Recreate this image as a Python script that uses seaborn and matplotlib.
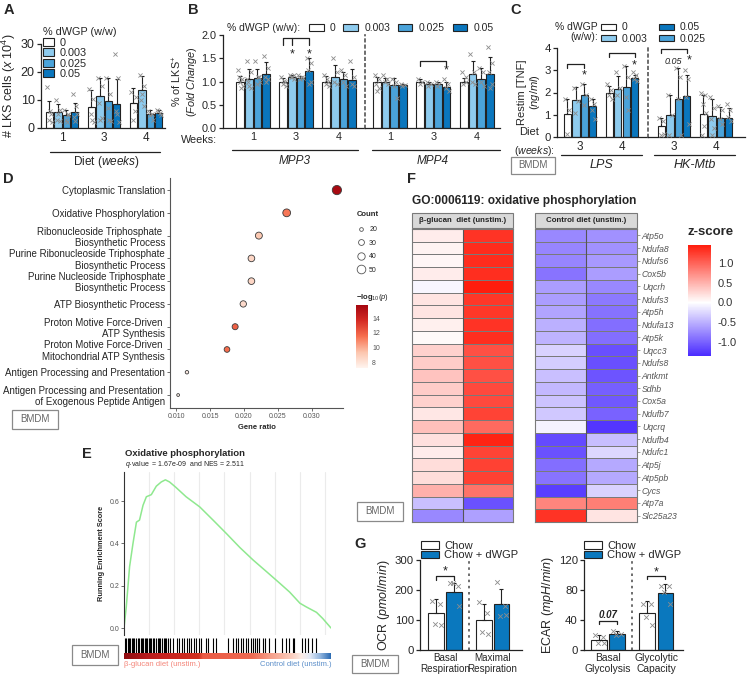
import numpy as np
import pandas as pd
import matplotlib
matplotlib.use('Agg')
import matplotlib.pyplot as plt
import seaborn as sns
from matplotlib.patches import Patch, Rectangle
from matplotlib.lines import Line2D
from matplotlib.colors import LinearSegmentedColormap, Normalize

W, H = 747, 676

# ---------------- data ----------------
# dWGP dose groups (panels A, B, C)
doses = ['0', '0.003', '0.025', '0.05']
dose_colors = ['#ffffff', '#8ecbee', '#4aa3da', '#0a76bd']

# A: LKS cells (x 10^4)
a_weeks = ['1', '3', '4']
a_mean = [[5.8, 5.8, 4.8, 5.8], [7.5, 11.5, 9.8, 8.5], [8.9, 13.6, 5.0, 5.4]]
a_sd = [[3.7, 2.7, 1.7, 3.2], [6.0, 6.5, 8.2, 9.0], [5.4, 5.0, 1.5, 1.1]]
a_pts = [
    [[14.5, 5, 3, 2, 6], [10, 6.5, 3, 2.5, 5], [6.5, 5, 3, 4.5, 2], [12, 8, 4, 5, 2.5]],
    [[14, 10.5, 5, 2, 3], [18, 15, 9, 3.5, 3], [18, 12, 7, 2.5, 3], [26.5, 18, 6, 2, 5]],
    [[13, 6, 3, 11], [19, 15, 10, 8, 12], [6, 5, 4.5, 3], [6.5, 5.5, 6, 4.5]],
]

# B: % of LKS+ (fold change)
b_weeks = ['1', '3', '4']
mpp3_mean = [[1.0, 1.05, 1.07, 1.17], [1.0, 1.1, 1.07, 1.22], [1.0, 1.09, 1.05, 1.03]]
mpp3_sd = [[0.12, 0.22, 0.2, 0.25], [0.07, 0.05, 0.05, 0.28], [0.12, 0.26, 0.15, 0.24]]
mpp3_pts = [
    [[1.25, 1.05, 1.0, 0.9, 0.85, 1.1], [1.45, 1.2, 1.0, 0.85, 0.9, 1.05], [1.45, 1.1, 0.95, 1.0, 1.1], [1.55, 1.3, 1.1, 1.05, 1.0]],
    [[1.1, 1.0, 0.95, 0.9, 1.02], [1.13, 1.15, 1.1, 1.05, 1.1], [1.13, 1.1, 1.05, 1.08], [1.5, 1.4, 1.25, 1.0, 0.95]],
    [[1.15, 1.0, 0.95, 0.9, 1.05], [1.5, 1.2, 1.0, 0.95], [1.25, 1.15, 1.0, 0.9], [1.45, 1.1, 0.95, 0.9]],
]
mpp4_mean = [[1.0, 1.0, 0.93, 0.92], [1.0, 0.95, 0.95, 0.88], [1.0, 1.17, 1.05, 1.17]]
mpp4_sd = [[0.1, 0.07, 0.14, 0.03], [0.05, 0.04, 0.04, 0.1], [0.07, 0.28, 0.25, 0.35]]
mpp4_pts = [
    [[1.15, 1.05, 0.95, 0.85, 0.8], [1.15, 1.05, 1.0, 0.95], [1.05, 1.0, 0.9, 0.65], [0.95, 0.93, 0.9]],
    [[1.05, 1.0, 0.95], [1.0, 0.95, 0.9], [1.0, 0.95, 0.9], [1.05, 0.95, 0.85, 0.8]],
    [[1.2, 1.1, 0.95, 1.0], [1.6, 1.2, 1.0, 0.95], [1.3, 1.2, 1.0, 0.9], [1.75, 1.4, 1.2, 0.95, 0.85]],
]

# C: restim TNF (ng/ml)
c_weeks = ['3', '4']
lps_mean = [[1.05, 1.65, 1.9, 1.38], [2.0, 2.15, 2.25, 2.65]]
lps_sd = [[0.65, 0.6, 0.5, 0.32], [0.3, 0.6, 0.95, 0.15]]
lps_pts = [
    [[1.7, 1.2, 0.15], [2.2, 1.6, 1.1], [2.4, 1.9, 1.45], [1.7, 1.5, 1.2, 0.8]],
    [[2.4, 2.1, 1.9, 1.7], [2.9, 2.2, 1.9], [3.2, 2.7, 1.8, 1.2], [2.9, 2.8, 2.6, 2.5]],
]
mtb_mean = [[0.48, 0.97, 1.7, 1.83], [1.05, 0.95, 0.85, 0.87]]
mtb_sd = [[0.37, 0.93, 1.4, 0.97], [0.85, 0.75, 0.5, 0.43]]
mtb_pts = [
    [[0.85, 0.7, 0.1, 0.15], [1.9, 1.0, 0.1], [3.1, 2.7, 1.7, 0.1], [3.0, 2.6, 1.8, 0.6]],
    [[2.0, 1.9, 1.5, 1.1, 0.5, 0.1], [1.8, 1.3, 0.8, 0.4, 0.1], [1.4, 1.2, 0.8, 0.6], [1.5, 1.2, 0.9, 0.7]],
]

# D: GO enrichment dot plot
go_terms = ['Cytoplasmic Translation',
            'Oxidative Phosphorylation',
            'Ribonucleoside Triphosphate \nBiosynthetic Process',
            'Purine Ribonucleoside Triphosphate\nBiosynthetic Process',
            'Purine Nucleoside Triphosphate\nBiosynthetic Process',
            'ATP Biosynthetic Process',
            'Proton Motive Force-Driven \nATP Synthesis',
            'Proton Motive Force-Driven \nMitochondrial ATP Synthesis',
            'Antigen Processing and Presentation',
            'Antigen Processing and Presentation \nof Exogenous Peptide Antigen']
gene_ratio = [0.0337, 0.0263, 0.0222, 0.0211, 0.0211, 0.0199, 0.0187, 0.0175, 0.0116, 0.0103]
go_count = [55, 43, 37, 35, 35, 33, 31, 29, 19, 17]
go_logp = [15.6, 11.3, 9.2, 8.6, 8.6, 8.4, 12.0, 11.6, 7.6, 7.3]

# E: GSEA running enrichment score
n_genes = 20600
es_rank = [0, 227, 556, 896, 1236, 1545, 1895, 2225, 2719, 3214, 3708, 4120, 4532, 5150, 6180,
           7540, 8858, 10197, 11536, 12854, 14214, 15512, 16480, 17510, 18128, 19158, 19776, 20600]
es_score = [0.0, 0.10, 0.29, 0.40, 0.50, 0.51, 0.58, 0.62, 0.63, 0.67, 0.69, 0.70, 0.69, 0.665,
            0.62, 0.572, 0.51, 0.446, 0.38, 0.321, 0.265, 0.211, 0.17, 0.117, 0.10, 0.074, 0.045, 0.0]
hit_rank = [66, 233, 366, 498, 631, 764, 897, 1030, 1163, 1396, 1529, 1661, 1794, 1927, 2060,
            2193, 2326, 2459, 2592, 2725, 2858, 2990, 3157, 3356, 3489, 3622, 3821, 3954, 4087,
            4220, 4420, 4619, 4852, 5284, 5450, 5749, 5948, 6314, 6513, 6712, 6945, 7211, 7443,
            7643, 8141, 8374, 8872, 9138, 10301, 10866, 11098, 11298, 11597, 11863, 12096, 12328,
            12594, 12860, 13059, 13258, 13458, 13856, 14023, 14455, 15020, 15684, 16083, 16449,
            16781, 16914, 17711, 18011, 18343, 18741, 19073]

# F: heatmap z-scores
genes = ['Atp5o', 'Ndufa8', 'Ndufs6', 'Cox5b', 'Uqcrh', 'Ndufs3', 'Atp5h', 'Ndufa13', 'Atp5k',
         'Uqcc3', 'Ndufs8', 'Antkmt', 'Sdhb', 'Cox5a', 'Ndufb7', 'Uqcrq', 'Ndufb4', 'Ndufc1',
         'Atp5j', 'Atp5pb', 'Cycs', 'Atp7a', 'Slc25a23']
beta_z = [[0.12, 1.30], [0.08, 1.35], [0.05, 1.35], [0.12, 1.33], [-0.05, 1.45], [0.18, 1.28],
          [0.18, 1.28], [0.10, 1.30], [0.03, 1.33], [0.30, 1.12], [0.33, 1.12], [0.38, 1.12],
          [0.33, 1.16], [0.30, 1.16], [0.15, 1.20], [0.40, 0.95], [0.20, 1.40], [0.12, 1.20],
          [0.22, 1.22], [0.22, 1.22], [0.50, 0.90], [-0.40, -1.10], [-0.75, -0.60]]
ctrl_z = [[-0.75, -0.70], [-0.78, -0.70], [-0.78, -0.65], [-0.88, -0.62], [-0.62, -0.75],
          [-0.62, -0.85], [-0.58, -0.90], [-0.50, -0.92], [-0.48, -0.92], [-0.28, -1.12],
          [-0.32, -1.12], [-0.40, -1.08], [-0.45, -1.02], [-0.38, -1.06], [-0.35, -1.00],
          [-0.08, -1.28], [-1.15, -0.42], [-1.10, -0.25], [-0.92, -0.55], [-0.88, -0.55],
          [-1.22, -0.28], [0.78, 0.82], [1.30, 0.18]]

# G: Seahorse
diets = ['Chow', 'Chow + dWGP']
diet_colors = ['#ffffff', '#0a78be']
ocr_groups = ['Basal\nRespiration', 'Maximal\nRespiration']
ocr_mean = [[122, 193], [100, 152]]
ocr_sd = [[48, 30], [52, 53]]
ocr_pts = [[[165, 155, 88, 82], [222, 215, 225, 148]], [[160, 125, 60, 55], [228, 148, 115, 118]]]
ecar_groups = ['Basal\nGlycolysis', 'Glycolytic\nCapacity']
ecar_mean = [[13, 21], [50, 76]]
ecar_sd = [[7, 5], [16, 12]]
ecar_pts = [[[20, 18, 10, 10], [26, 22, 20]], [[62, 62, 44, 34], [85, 86, 78, 61]]]

# ---------------- setup ----------------
sns.set_style('ticks')
plt.rcParams['font.family'] = ['Liberation Sans', 'DejaVu Sans']
plt.rcParams['mathtext.fontset'] = 'custom'
plt.rcParams['mathtext.rm'] = 'Liberation Sans'
plt.rcParams['mathtext.it'] = 'Liberation Sans:italic'
plt.rcParams['mathtext.bf'] = 'Liberation Sans:bold'

fig = plt.figure(figsize=(W / 100, H / 100), dpi=100)
INK = '#222222'
jit = np.array([-0.55, 0.45, -0.15, 0.6, 0.1, -0.4])


def fx(x):
    return x / W


def fy(y):
    return 1 - y / H


def add_ax(x0, y0, x1, y1):
    return fig.add_axes([x0 / W, 1 - y1 / H, (x1 - x0) / W, (y1 - y0) / H])


def ftext(x, y, s, **kw):
    kw.setdefault('va', 'center')
    fig.text(fx(x), fy(y), s, **kw)


def fline(x0, x1, y, color=INK, lw=0.9):
    fig.add_artist(Line2D([fx(x0), fx(x1)], [fy(y), fy(y)], color=color, lw=lw))


def bmdm(cx, cy, w=46, h=19):
    fig.add_artist(Rectangle((fx(cx - w / 2), fy(cy + h / 2)), w / W, h / H,
                             transform=fig.transFigure, fc='white', ec='#8a8a8a', lw=0.9))
    ftext(cx, cy, 'BMDM', ha='center', fontsize=7, color='#666666')


def bar_x(i, j, n, width):
    return i + (j - (n - 1) / 2) * width / n


def bar_panel(ax, groups, levels, colors, means, sds, pts, width=0.8, ms=9):
    df = pd.DataFrame([(g, l, means[i][j]) for i, g in enumerate(groups)
                       for j, l in enumerate(levels)], columns=['group', 'level', 'value'])
    sns.barplot(data=df, x='group', y='value', hue='level', order=groups, hue_order=levels,
                palette=colors, saturation=1, errorbar=None, width=width, gap=0.12,
                edgecolor=INK, linewidth=0.8, legend=False, ax=ax)
    n = len(levels)
    for i in range(len(groups)):
        for j in range(n):
            x = bar_x(i, j, n, width)
            ax.errorbar(x, means[i][j], yerr=[[0], [sds[i][j]]], fmt='none', ecolor=INK,
                        elinewidth=0.8, capsize=1.6, capthick=0.8, zorder=3)
            p = np.asarray(pts[i][j], dtype=float)
            ax.scatter(x + jit[:len(p)] * width / n * 0.45, p, marker='x', s=ms,
                       color='#8c8c8c', linewidths=0.6, zorder=4)
    ax.set_xlabel('')
    ax.set_ylabel('')


def prism(ax, ylim, yticks, fs, fmt=None, left=True):
    ax.set_ylim(*ylim)
    sns.despine(ax=ax)
    for s in ['left', 'bottom']:
        ax.spines[s].set_linewidth(0.9)
        ax.spines[s].set_color(INK)
    ax.tick_params(axis='x', length=0, labelsize=fs, pad=3)
    if left:
        ax.set_yticks(yticks)
        if fmt:
            ax.set_yticklabels([fmt % v for v in yticks])
        ax.tick_params(axis='y', length=3, width=0.9, labelsize=fs, pad=1.5)
    else:
        ax.set_yticks([])
        ax.spines['left'].set_linestyle((0, (1.5, 2.2)))
        ax.spines['left'].set_color('#555555')
        ax.spines['left'].set_linewidth(1.2)


def bracket(ax, x0, x1, y, drop, mids=()):
    ax.plot([x0, x0, x1, x1], [y - drop, y, y, y - drop], color=INK, lw=0.9, clip_on=False)
    for xm in mids:
        ax.plot([xm, xm], [y, y - drop], color=INK, lw=0.9, clip_on=False)


def star(ax, x, y, fs=9):
    ax.text(x, y, '*', ha='center', va='center', fontsize=fs, color=INK)


def box_handles(colors, labels):
    return [Patch(facecolor=c, edgecolor=INK, linewidth=0.8, label=l) for c, l in zip(colors, labels)]


def letter(x, y, s):
    ftext(x, y, s, fontsize=10.5, weight='bold', va='top')


# ---------------- A ----------------
ax_a = add_ax(41, 44, 165, 128)
bar_panel(ax_a, a_weeks, doses, dose_colors, a_mean, a_sd, a_pts)
prism(ax_a, (0, 30), [0, 10, 20, 30], 9)
ax_a.set_xlim(-0.5, 2.45)
ax_a.tick_params(axis='x', labelsize=8.5)
ax_a.set_ylabel(r'# LKS cells ($\it{x\ 10^4}$)', fontsize=9, labelpad=2)
ax_a.legend(handles=box_handles(dose_colors, doses), title='% dWGP (w/w)', loc='upper left',
            bbox_to_anchor=(fx(43), fy(27)), bbox_transform=fig.transFigure, frameon=False,
            fontsize=7.8, title_fontsize=7.8, handlelength=1.0, handleheight=0.75,
            labelspacing=0.05, handletextpad=0.5, borderpad=0, borderaxespad=0, alignment='left')
fline(50, 160, 152)
ftext(106, 162, r'Diet ($\it{weeks}$)', ha='center', fontsize=8.5)

# ---------------- B ----------------
ax_b1 = add_ax(223, 35, 365, 128)
bar_panel(ax_b1, b_weeks, doses, dose_colors, mpp3_mean, mpp3_sd, mpp3_pts)
prism(ax_b1, (0, 2), [0, 0.5, 1.0, 1.5, 2.0], 7.8, fmt='%.1f')
ax_b1.set_xlim(-0.70, 2.60)
ax_b1.set_ylabel('% of LKS$^{+}$\n($\\it{Fold\\ Change}$)', fontsize=7.8, labelpad=2, linespacing=1.1)
bracket(ax_b1, bar_x(1, 0, 4, 0.8), bar_x(1, 3, 4, 0.8), 1.935, 0.15, mids=[bar_x(1, 1, 4, 0.8)])
star(ax_b1, bar_x(1, 1, 4, 0.8), 1.58)
star(ax_b1, bar_x(1, 3, 4, 0.8), 1.58)

ax_b2 = add_ax(365, 35, 500, 128)
bar_panel(ax_b2, b_weeks, doses, dose_colors, mpp4_mean, mpp4_sd, mpp4_pts)
prism(ax_b2, (0, 2), None, 7.8, left=False)
ax_b2.set_xlim(-0.57, 2.53)
bracket(ax_b2, bar_x(1, 0, 4, 0.8), bar_x(1, 3, 4, 0.8), 1.44, 0.1)
star(ax_b2, bar_x(1, 3, 4, 0.8), 1.24)

ftext(217, 140, 'Weeks:', ha='right', fontsize=7.8)
fline(232, 358, 150)
fline(372, 500, 150)
ftext(295, 161, 'MPP3', ha='center', fontsize=8.5, style='italic')
ftext(433, 161, 'MPP4', ha='center', fontsize=8.5, style='italic')
ftext(227, 28, '% dWGP (w/w):', ha='left', fontsize=7.5)
ax_b1.legend(handles=box_handles(dose_colors, doses), loc='center left', ncol=4,
             bbox_to_anchor=(fx(309), fy(28)), bbox_transform=fig.transFigure, frameon=False,
             fontsize=7.5, handlelength=1.4, handleheight=0.6, handletextpad=0.6,
             columnspacing=0.75, borderpad=0, borderaxespad=0)

# ---------------- C ----------------
ax_c1 = add_ax(557, 48, 648, 137)
bar_panel(ax_c1, c_weeks, doses, dose_colors, lps_mean, lps_sd, lps_pts)
prism(ax_c1, (0, 4), [0, 1, 2, 3, 4], 8.2)
ax_c1.set_xlim(-0.55, 1.62)
ax_c1.tick_params(axis='x', labelsize=8.5)
ax_c1.set_ylabel('Restim [TNF]\n($\\it{ng/ml}$)', fontsize=8, labelpad=2, linespacing=1.1)
bracket(ax_c1, bar_x(0, 0, 4, 0.8), bar_x(0, 2, 4, 0.8), 3.28, 0.18)
star(ax_c1, bar_x(0, 2, 4, 0.8), 2.78)
bracket(ax_c1, bar_x(1, 0, 4, 0.8), bar_x(1, 3, 4, 0.8), 3.78, 0.18)
star(ax_c1, bar_x(1, 3, 4, 0.8), 3.2)

ax_c2 = add_ax(648, 48, 745, 137)
bar_panel(ax_c2, c_weeks, doses, dose_colors, mtb_mean, mtb_sd, mtb_pts)
prism(ax_c2, (0, 4), None, 8.5, left=False)
ax_c2.set_xlim(-0.62, 1.69)
bracket(ax_c2, bar_x(0, 0, 4, 0.8), bar_x(0, 3, 4, 0.8), 3.95, 0.18)
ax_c2.text(bar_x(0, 2, 4, 0.8) - 0.12, 3.4, '0.05', ha='center', va='center', fontsize=6.5,
           style='italic', color=INK)
star(ax_c2, bar_x(0, 3, 4, 0.8) + 0.06, 3.42)

ftext(539, 132, 'Diet', ha='right', fontsize=8)
ftext(555, 150.5, r'($\it{weeks}$):', ha='right', fontsize=7.6)
fline(561, 642, 155)
fline(654, 735, 155)
ftext(601, 165, 'LPS', ha='center', fontsize=9, style='italic')
ftext(695, 165, 'HK-Mtb', ha='center', fontsize=9, style='italic')
ftext(598, 32, '% dWGP\n(w/w):', ha='right', fontsize=7.5, multialignment='right', linespacing=1.0)
c_order = [0, 1, 3, 2]
ax_c1.legend(handles=[box_handles(dose_colors, doses)[k] for k in c_order], loc='center left',
             ncol=2, bbox_to_anchor=(fx(601), fy(33)), bbox_transform=fig.transFigure,
             frameon=False, fontsize=7.5, handlelength=1.4, handleheight=0.6, handletextpad=0.6,
             columnspacing=1.1, labelspacing=0.1, borderpad=0, borderaxespad=0)
bmdm(533, 165, w=44, h=17)

# ---------------- D ----------------
go_cmap = LinearSegmentedColormap.from_list('go', ['#fff4ef', '#fcc5ad', '#f7704f', '#d52b24', '#a4060f'])
ax_d = add_ax(170, 178, 343, 408)
d_df = pd.DataFrame({'term': go_terms, 'ratio': gene_ratio, 'count': go_count, 'logp': go_logp})
sns.scatterplot(data=d_df, x='ratio', y='term', size='count', sizes=(3, 44), size_norm=(16, 55),
                hue='logp', palette=go_cmap, hue_norm=(7.2, 15.8), edgecolor='#3a3a3a',
                linewidth=0.6, legend=False, ax=ax_d)
ax_d.set_ylim(9.57, -0.53)
ax_d.set_xlim(0.0091, 0.0346)
ax_d.set_xticks([0.010, 0.015, 0.020, 0.025, 0.030])
ax_d.set_xticklabels(['0.010', '0.015', '0.020', '0.025', '0.030'])
sns.despine(ax=ax_d)
for s in ['left', 'bottom']:
    ax_d.spines[s].set_color('#555555')
    ax_d.spines[s].set_linewidth(0.8)
ax_d.tick_params(axis='x', labelsize=5, colors='#555555', length=2, width=0.6, pad=1.5)
ax_d.tick_params(axis='y', labelsize=7, length=2, width=0.6, color='#555555', pad=1.5)
for t in ax_d.get_yticklabels():
    t.set_linespacing(1.15)
ax_d.set_ylabel('')
ax_d.set_xlabel('Gene ratio', fontsize=5.5, weight='bold', labelpad=3)

ftext(357, 215, 'Count', fontsize=5.5, weight='bold')
size_handles = [Line2D([], [], marker='o', ls='', mfc='white', mec='#555555', mew=0.6,
                       markersize=np.sqrt(3 + (c - 16) / 39 * 41), label=str(c))
                for c in [20, 30, 40, 50]]
ax_d.legend(handles=size_handles, loc='upper left', bbox_to_anchor=(fx(358), fy(226)),
            bbox_transform=fig.transFigure, frameon=False, fontsize=5, handlelength=1.0,
            handletextpad=0.6, labelspacing=0.95, borderpad=0, borderaxespad=0)
ftext(356, 297, r'$\mathbf{-log}_{10}(\it{p})$', fontsize=5.5)
cax_d = add_ax(356, 305, 368, 368)
cb_d = fig.colorbar(plt.cm.ScalarMappable(norm=Normalize(7.2, 15.8), cmap=go_cmap), cax=cax_d)
cb_d.set_ticks([8, 10, 12, 14])
cb_d.outline.set_visible(False)
cax_d.tick_params(labelsize=5, colors='white', length=2.5, width=0.6, direction='in', pad=3)
for t in cax_d.get_yticklabels():
    t.set_color('#555555')
bmdm(35, 419, w=46, h=19)

# ---------------- E ----------------
ax_e = add_ax(124, 472, 331, 635)
sns.lineplot(x=es_rank, y=es_score, color='#8fe88f', linewidth=1.1, ax=ax_e)
ax_e.set_xlim(0, n_genes)
ax_e.set_ylim(-0.033, 0.737)
ax_e.set_xticks(np.arange(2500, n_genes, 2500))
ax_e.set_xticklabels([])
ax_e.grid(axis='x', color='#ebebeb', lw=0.8)
ax_e.set_axisbelow(True)
ax_e.set_yticks([0.0, 0.2, 0.4, 0.6])
ax_e.set_yticklabels(['0.0', '0.2', '0.4', '0.6'])
sns.despine(ax=ax_e, bottom=True)
ax_e.spines['left'].set_color('#333333')
ax_e.spines['left'].set_linewidth(0.8)
ax_e.tick_params(axis='x', length=0)
ax_e.tick_params(axis='y', labelsize=5, colors='#555555', length=2, width=0.6, pad=1.5)
ax_e.set_ylabel('Running Enrichment Score', fontsize=5.3, weight='bold', labelpad=3)

ax_rug = add_ax(124, 638, 331, 653)
ax_rug.vlines(hit_rank, 0, 1, color='black', lw=0.8)
ax_rug.set_xlim(0, n_genes)
ax_rug.set_ylim(0, 1)
ax_rug.axis('off')

strip_cmap = LinearSegmentedColormap.from_list('strip', [
    (0.0, '#8e0c10'), (0.1, '#b41a1c'), (0.2, '#c8231f'), (0.36, '#d0301f'), (0.38, '#ea5a44'),
    (0.62, '#ee6a52'), (0.7, '#f59a84'), (0.8, '#fac7b6'), (0.86, '#fcece6'), (0.9, '#e2e9f5'),
    (0.95, '#94b7df'), (1.0, '#2d6cb4')])
ax_strip = add_ax(124, 653, 331, 659)
ax_strip.imshow(np.linspace(0, 1, 500)[None, :], aspect='auto', cmap=strip_cmap,
                extent=[0, n_genes, 0, 1])
ax_strip.axis('off')
ftext(124, 664, 'β-glucan diet (unstim.)', fontsize=5.5, color='#f4867a')
ftext(331, 664, 'Control diet (unstim.)', ha='right', fontsize=5.5, color='#5b8ec9')
ftext(125, 453, 'Oxidative phosphorylation', fontsize=6.8, weight='bold')
ftext(125, 464, r'$\it{q}$-value  = 1.67e-09  and NES = 2.511', fontsize=5)
bmdm(95, 655, w=46, h=20)

# ---------------- F ----------------
zmin, zmax = -1.35, 1.45
z_cmap = LinearSegmentedColormap.from_list('z', [(0, '#4a2bff'), (-zmin / (zmax - zmin), '#ffffff'),
                                                 (1, '#ff1d0d')])
ax_f1 = add_ax(412, 229, 513, 522)
sns.heatmap(np.array(beta_z), cmap=z_cmap, vmin=zmin, vmax=zmax, cbar=False, linewidths=0.5,
            linecolor='#7a7a7a', xticklabels=False, yticklabels=False, ax=ax_f1)
ax_f2 = add_ax(535, 229, 637, 522)
sns.heatmap(np.array(ctrl_z), cmap=z_cmap, vmin=zmin, vmax=zmax, cbar=False, linewidths=0.5,
            linecolor='#7a7a7a', xticklabels=False, yticklabels=genes, ax=ax_f2)
ax_f2.yaxis.tick_right()
ax_f2.tick_params(axis='y', length=2, width=0.5, color='#777777', labelsize=6.2, pad=1.5,
                  labelcolor='#555555')
for t in ax_f2.get_yticklabels():
    t.set_rotation(0)
    t.set_style('italic')
for a in (ax_f1, ax_f2):
    for s in a.spines.values():
        s.set_visible(True)
        s.set_color('#7a7a7a')
        s.set_linewidth(0.8)
    a.axvline(1, color='#555555', lw=0.8)
for x0, x1, lab in [(412, 513, 'β-glucan  diet (unstim.)'), (535, 637, 'Control diet (unstim.)')]:
    fig.add_artist(Rectangle((fx(x0), fy(228)), (x1 - x0) / W, 15 / H, transform=fig.transFigure,
                             fc='#d9d9d9', ec='#7a7a7a', lw=0.8))
    ftext((x0 + x1) / 2, 220.5, lab, ha='center', fontsize=5.7, weight='bold', color='#222222')
ftext(412, 201, 'GO:0006119: oxidative phosphorylation', fontsize=8.6, weight='bold')
cax_f = add_ax(688, 245, 711, 356)
cb_f = fig.colorbar(ax_f1.collections[0], cax=cax_f)
cb_f.set_ticks([-1.0, -0.5, 0.0, 0.5, 1.0])
cb_f.set_ticklabels(['-1.0', '-0.5', '0.0', '0.5', '1.0'])
cb_f.outline.set_visible(False)
cax_f.tick_params(labelsize=8, colors='white', length=4, width=0.6, direction='in', pad=5)
for t in cax_f.get_yticklabels():
    t.set_color('#333333')
ftext(688, 232, 'z-score', fontsize=9.5, weight='bold')
bmdm(380, 511, w=46, h=19)

# ---------------- G ----------------
ax_g1 = add_ax(420, 560, 522, 650)
bar_panel(ax_g1, ocr_groups, diets, diet_colors, ocr_mean, ocr_sd, ocr_pts, width=0.75, ms=11)
prism(ax_g1, (0, 300), [0, 100, 200, 300], 8.2)
ax_g1.set_xlim(-0.53, 1.62)
ax_g1.tick_params(axis='x', labelsize=7.1, pad=2)
ax_g1.axvline(0.5, color='#555555', lw=1.2, ls=(0, (1.5, 2.2)))
ax_g1.set_ylabel(r'OCR ($\it{pmol/min}$)', fontsize=9, labelpad=2)
bracket(ax_g1, bar_x(0, 0, 2, 0.75), bar_x(0, 1, 2, 0.75), 247, 14)
star(ax_g1, 0, 262)

ax_g2 = add_ax(584, 560, 683, 650)
bar_panel(ax_g2, ecar_groups, diets, diet_colors, ecar_mean, ecar_sd, ecar_pts, width=0.75, ms=11)
prism(ax_g2, (0, 120), [0, 40, 80, 120], 8.2)
ax_g2.set_xlim(-0.5, 1.55)
ax_g2.tick_params(axis='x', labelsize=7.4, pad=2)
ax_g2.axvline(0.5, color='#555555', lw=1.2, ls=(0, (1.5, 2.2)))
ax_g2.set_ylabel(r'ECAR ($\it{mpH/min}$)', fontsize=9, labelpad=2)
bracket(ax_g2, bar_x(0, 0, 2, 0.75), bar_x(0, 1, 2, 0.75), 38.7, 3.5)
ax_g2.text(0, 46.5, '0.07', ha='center', va='center', fontsize=7, style='italic', weight='bold',
           color=INK)
bracket(ax_g2, bar_x(1, 0, 2, 0.75), bar_x(1, 1, 2, 0.75), 98.7, 3.5)
star(ax_g2, 1, 104)

for a, x in [(ax_g1, 421), (ax_g2, 584)]:
    a.legend(handles=box_handles(diet_colors, diets), loc='upper left', bbox_to_anchor=(fx(x), fy(541)),
             bbox_transform=fig.transFigure, frameon=False, fontsize=8, handlelength=1.6,
             handleheight=0.65, handletextpad=0.5, labelspacing=-0.05, borderpad=0, borderaxespad=0)
bmdm(375, 664, w=46, h=18)

# ---------------- panel letters ----------------
letter(4, 3, 'A')
letter(188, 3, 'B')
letter(510, 3, 'C')
letter(3, 172, 'D')
letter(82, 447, 'E')
letter(407, 172, 'F')
letter(354, 537, 'G')

fig.savefig('out.png', dpi=100)
